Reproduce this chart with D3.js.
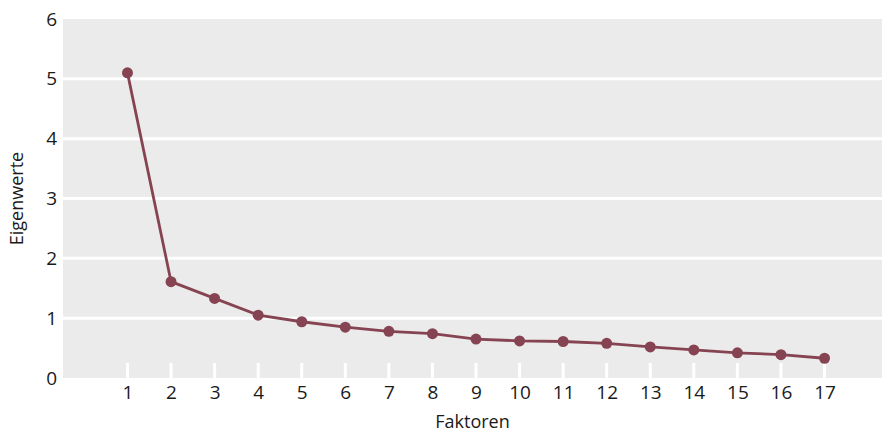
<!DOCTYPE html>
<html><head><meta charset="utf-8">
<script src="https://cdn.jsdelivr.net/npm/d3@7"></script>
<style>
body{margin:0;background:#fff;}
text{font-family:"Open Sans","Noto Sans",sans-serif;fill:#1a1a1a;}
</style></head>
<body><svg id="c" width="882" height="434"></svg>
<script>
const categories = ["1","2","3","4","5","6","7","8","9","10","11","12","13","14","15","16","17"];
const eigenwerte = [5.10,1.61,1.33,1.05,0.94,0.85,0.78,0.74,0.65,0.62,0.61,0.58,0.52,0.47,0.42,0.39,0.33];
const yTicks = [0,1,2,3,4,5,6];
const xTitle = "Faktoren";
const yTitle = "Eigenwerte";

const W = 882, H = 434;
const m = {left:63, top:19, right:0, bottom:56};
const svg = d3.select("#c");
const x = d3.scalePoint().domain(categories).range([m.left, 889]).padding(1.48);
const y = d3.scaleLinear().domain([0,6]).range([H-m.bottom, m.top]);

svg.append("rect").attr("x",m.left).attr("y",m.top)
  .attr("width",W-m.left).attr("height",(H-m.bottom)-m.top).attr("fill","#ebebeb");

// gridlines
svg.append("g").selectAll("line").data(yTicks.filter(d=>d>0&&d<6)).join("line")
  .attr("x1",m.left).attr("x2",W).attr("y1",d=>y(d)).attr("y2",d=>y(d))
  .attr("stroke","#fff").attr("stroke-width",3);

// x tick marks (white, inside)
svg.append("g").selectAll("line").data(categories).join("line")
  .attr("x1",d=>x(d)).attr("x2",d=>x(d)).attr("y1",y(0)-15).attr("y2",y(0))
  .attr("stroke","#fff").attr("stroke-width",3);

// y axis labels
const ya = svg.append("g").attr("transform",`translate(${m.left},0)`)
  .call(d3.axisLeft(y).tickValues(yTicks).tickSize(0).tickPadding(6).tickFormat(d3.format("d")));
ya.select(".domain").remove();
ya.selectAll("text").attr("font-size",19).attr("font-family","Open Sans").attr("fill","#1a1a1a");

// x axis labels
const xa = svg.append("g").attr("transform",`translate(0,${y(0)})`)
  .call(d3.axisBottom(x).tickSize(0).tickPadding(8));
xa.select(".domain").remove();
xa.selectAll("text").attr("font-size",19).attr("font-family","Open Sans").attr("fill","#1a1a1a");

// line
const col = "#864452";
svg.append("path").datum(eigenwerte)
  .attr("fill","none").attr("stroke",col).attr("stroke-width",2.8)
  .attr("d", d3.line().x((d,i)=>x(categories[i])).y(d=>y(d)));
svg.append("g").selectAll("circle").data(eigenwerte).join("circle")
  .attr("cx",(d,i)=>x(categories[i])).attr("cy",d=>y(d)).attr("r",5.5).attr("fill",col);

// titles
svg.append("text").attr("x",(m.left+W)/2).attr("y",428).attr("text-anchor","middle")
  .attr("font-size",18).text(xTitle);
svg.append("text").attr("transform",`translate(23,${(m.top+H-m.bottom)/2}) rotate(-90)`)
  .attr("text-anchor","middle").attr("font-size",18).text(yTitle);
</script></body></html>
